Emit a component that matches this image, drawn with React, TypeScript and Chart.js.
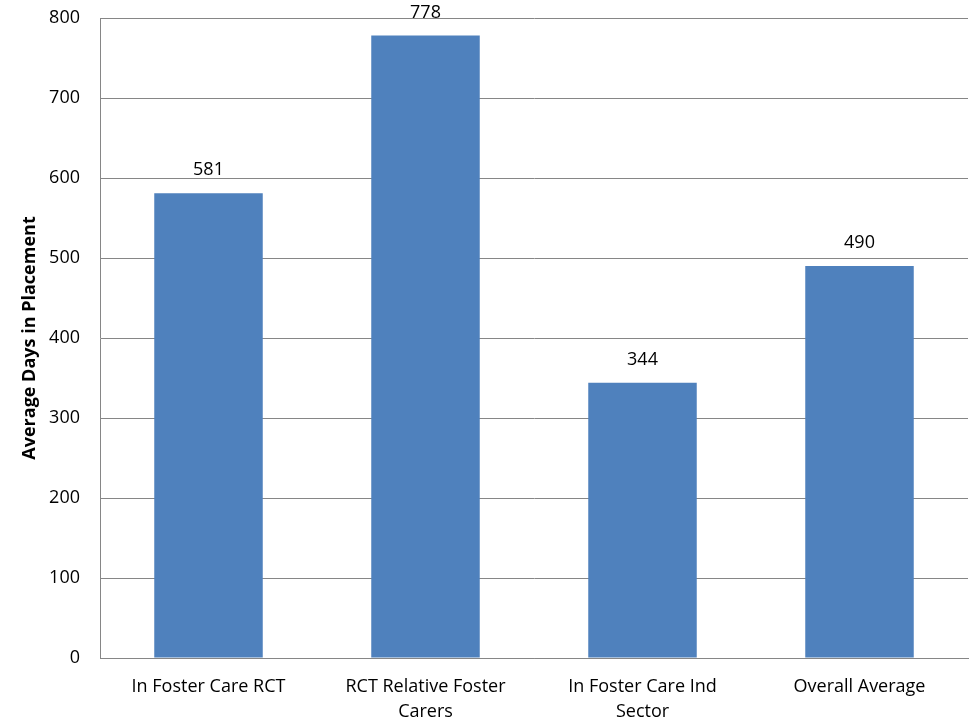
import React, { useEffect, useRef } from "react";
import { Chart, registerables } from "chart.js";

Chart.register(...registerables);

const categories: (string | string[])[] = [
  "In Foster Care RCT",
  ["RCT Relative Foster", "Carers"],
  ["In Foster Care Ind", "Sector"],
  "Overall Average",
];
const values: number[] = [581, 778, 344, 490];
const yTicks: number[] = [0, 100, 200, 300, 400, 500, 600, 700, 800];
const yTitle = "Average Days in Placement";

const FONT = "'Open Sans', 'Liberation Sans', sans-serif";

const labelPlugin = {
  id: "valueLabels",
  afterDatasetsDraw(chart: any) {
    const ctx = chart.ctx;
    const meta = chart.getDatasetMeta(0);
    ctx.save();
    ctx.font = `18px ${FONT}`;
    ctx.fillStyle = "#000";
    ctx.textAlign = "center";
    ctx.textBaseline = "middle";
    meta.data.forEach((bar: any, i: number) => {
      ctx.fillText(String(values[i]), bar.x, bar.y - 23);
    });
    ctx.restore();
  },
};

export default function App() {
  const ref = useRef<HTMLCanvasElement>(null);
  useEffect(() => {
    if (!ref.current) return;
    const chart = new Chart(ref.current, {
      type: "bar",
      data: {
        labels: categories,
        datasets: [
          {
            data: values,
            backgroundColor: "#4F81BD",
            borderWidth: 0,
            categoryPercentage: 0.5,
            barPercentage: 1,
          },
        ],
      },
      options: {
        animation: false,
        responsive: false,
        maintainAspectRatio: false,
        layout: { padding: { top: 18, right: 10, left: 0, bottom: 0 } },
        plugins: { legend: { display: false }, tooltip: { enabled: false } },
        scales: {
          x: {
            grid: { display: false, drawTicks: false },
            border: { display: true, color: "#868686", width: 1 },
            ticks: {
              color: "#000",
              font: { family: FONT, size: 18, lineHeight: 1.4 },
              padding: 16,
              maxRotation: 0,
              autoSkip: false,
            },
            afterFit(scale: any) {
              scale.height = 66;
              scale.paddingLeft = 0;
              scale.paddingRight = 0;
            },
          },
          y: {
            min: 0,
            max: 800,
            afterBuildTicks(scale: any) {
              scale.ticks = yTicks.map((v) => ({ value: v }));
            },
            grid: { color: "#868686", lineWidth: 1, drawTicks: false },
            border: { display: true, color: "#868686", width: 1 },
            ticks: {
              color: "#000",
              font: { family: FONT, size: 18 },
              padding: 20,
            },
            title: {
              display: true,
              text: yTitle,
              color: "#000",
              font: { family: FONT, size: 18, weight: "bold" },
              padding: { top: 19, bottom: 0 },
            },
            afterFit(scale: any) {
              scale.width = 100;
              scale.paddingTop = 0;
              scale.paddingBottom = 0;
            },
          },
        },
      },
      plugins: [labelPlugin],
    });
    return () => chart.destroy();
  }, []);
  return (
    <div style={{ position: "fixed", left: 0, top: 0, width: 978, height: 724, background: "#fff" }}>
      <canvas ref={ref} width={978} height={724} style={{ display: "block" }} />
    </div>
  );
}
